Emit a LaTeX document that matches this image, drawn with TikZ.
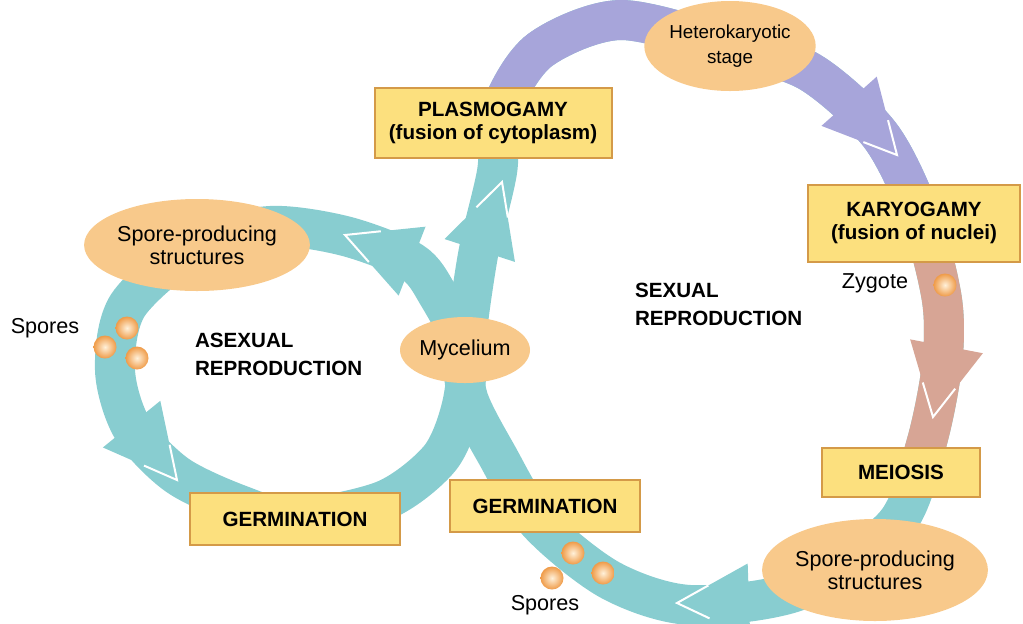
\documentclass[tikz,border=0pt]{standalone}
\usepackage{fontspec}
\setmainfont{Liberation Sans}
\usetikzlibrary{shapes.geometric, backgrounds}
\definecolor{Teal}{HTML}{88CDD0}
\definecolor{Lavender}{HTML}{A7A5DA}
\definecolor{Clay}{HTML}{D7A595}
\definecolor{OvalFill}{HTML}{F8C98B}
\definecolor{BoxFill}{HTML}{FCE07E}
\definecolor{BoxLine}{HTML}{D49A48}
\definecolor{BallIn}{HTML}{FFF1DA}
\definecolor{BallOut}{HTML}{EF9B48}
\newcommand\capsfont{\fontsize{10.3}{11.5}\selectfont\bfseries}
\newcommand\titlefont{\fontsize{10.3}{14}\selectfont\bfseries}
\newcommand\plainfont{\fontsize{10.8}{11.5}\selectfont}
\newcommand\smallfont{\fontsize{9.4}{12.5}\selectfont}

\begin{document}
\begin{tikzpicture}[x=0.5pt, y=-0.5pt,
  band/.style={line width=20pt, draw=Teal},
  box/.style={rectangle, draw=BoxLine, line width=1pt, fill=BoxFill,
              align=center, font=\capsfont, inner sep=0pt},
  oval/.style={ellipse, fill=OvalFill, align=center, font=\plainfont, inner sep=0pt},
  spore/.style={circle, minimum size=11.5pt, inner sep=0pt,
                inner color=BallIn, outer color=BallOut},
  lbl/.style={font=\plainfont},
  title/.style={font=\titlefont, align=left, anchor=west},
  pics/head/.style={code={
    \fill[#1] (0,0) -- (-72,37) -- (-72,-37) -- cycle;
    \draw[white, line width=1pt] (-32,16.5) -- (0,0) -- (-32,-16.5);
  }}
]
\useasboundingbox (0,0) rectangle (1023,623);

%% ---- stages ----
\node[oval, font=\smallfont, minimum width=77.5pt, minimum height=45pt] (hetero) at (730,46) {Heterokaryotic\\stage};
\node[box, minimum width=118.5pt, minimum height=35pt] (plasmo) at (493,123) {PLASMOGAMY\\(fusion of cytoplasm)};
\node[box, minimum width=106pt, minimum height=38.5pt] (karyo) at (914,223) {KARYOGAMY\\(fusion of nuclei)};
\node[box, minimum width=79pt, minimum height=24.5pt] (meiosis) at (901,472) {MEIOSIS};
\node[oval, minimum width=100pt, minimum height=51pt] (sporeR) at (875,570) {Spore-producing\\structures};
\node[box, minimum width=95pt, minimum height=26pt] (germR) at (545,506) {GERMINATION};
\node[oval, minimum width=65pt, minimum height=33pt] (myc) at (465,350) {Mycelium};
\node[box, minimum width=105pt, minimum height=26pt] (germL) at (295,519) {GERMINATION};
\node[oval, minimum width=102.5pt, minimum height=46pt] (sporeL) at (197,245) {Spore-producing\\structures};

%% ---- bands (behind the stages) ----
\begin{scope}[on background layer]
  % asexual loop
  \draw[band] plot[smooth cycle] coordinates {(myc.center) (438,295) (412,262) (345,236)
    (270,226) (sporeL.center) (128,305) (115,370) (132,428) (177,475) (240,505)
    (germL.center) (385,500) (440,458) (462,405)};
  % sexual loop
  \draw[band] plot[smooth cycle] coordinates {(myc.center) (478,255) (497,172) (502,108)
    (540,50) (620,20) (hetero.center) (810,72) (880,135) (920,215) (942,300) (942,365)
    (926,445) (895,525) (800,590) (690,605) (610,580) (538,522) (497,455) (468,398)};
  % plasmogamy to karyogamy
  \begin{scope}
    \clip (380,-20) -- (1040,-20) -- (1040,222) -- (700,222) -- (700,125) -- (380,125) -- cycle;
    \draw[band, draw=Lavender] plot[smooth cycle] coordinates {(myc.center) (478,255) (497,172) (502,108)
      (540,50) (620,20) (hetero.center) (810,72) (880,135) (920,215) (942,300) (942,365)
      (926,445) (895,525) (800,590) (690,605) (610,580) (538,522) (497,455) (468,398)};
  \end{scope}
  % karyogamy to meiosis
  \begin{scope}
    \clip (780,222) rectangle (1040,470);
    \draw[band, draw=Clay] plot[smooth cycle] coordinates {(myc.center) (478,255) (497,172) (502,108)
      (540,50) (620,20) (hetero.center) (810,72) (880,135) (920,215) (942,300) (942,365)
      (926,445) (895,525) (800,590) (690,605) (610,580) (538,522) (497,455) (468,398)};
  \end{scope}
  % arrow heads
  \pic[rotate=72] at (502,182) {head=Teal};
  \pic[rotate=158.7] at (345,235) {head=Teal};
  \pic[rotate=-48.3] at (897,155) {head=Lavender};
  \pic[rotate=-100.8] at (933,417) {head=Clay};
  \pic[rotate=182] at (677,603) {head=Teal};
  \pic[rotate=-50.9] at (177,480) {head=Teal};
\end{scope}

%% ---- spores ----
\node[spore] (sp1) at (127,328) {};
\node[spore] (sp2) at (105,347) {};
\node[spore] (sp3) at (137,358) {};
\node[spore] (zyg) at (945,285) {};
\node[spore] (sp4) at (573,553) {};
\node[spore] (sp5) at (552,578) {};
\node[spore] (sp6) at (603,573) {};

%% ---- labels ----
\node[lbl] (sporesL) at (45,328) {Spores};
\node[lbl] (zygtxt) at (875,283) {Zygote};
\node[lbl] (sporesB) at (545,605) {Spores};
\node[title] (asex) at (188,354) {ASEXUAL\\REPRODUCTION};
\node[title] (sex) at (628,304) {SEXUAL\\REPRODUCTION};

\end{tikzpicture}
\end{document}
